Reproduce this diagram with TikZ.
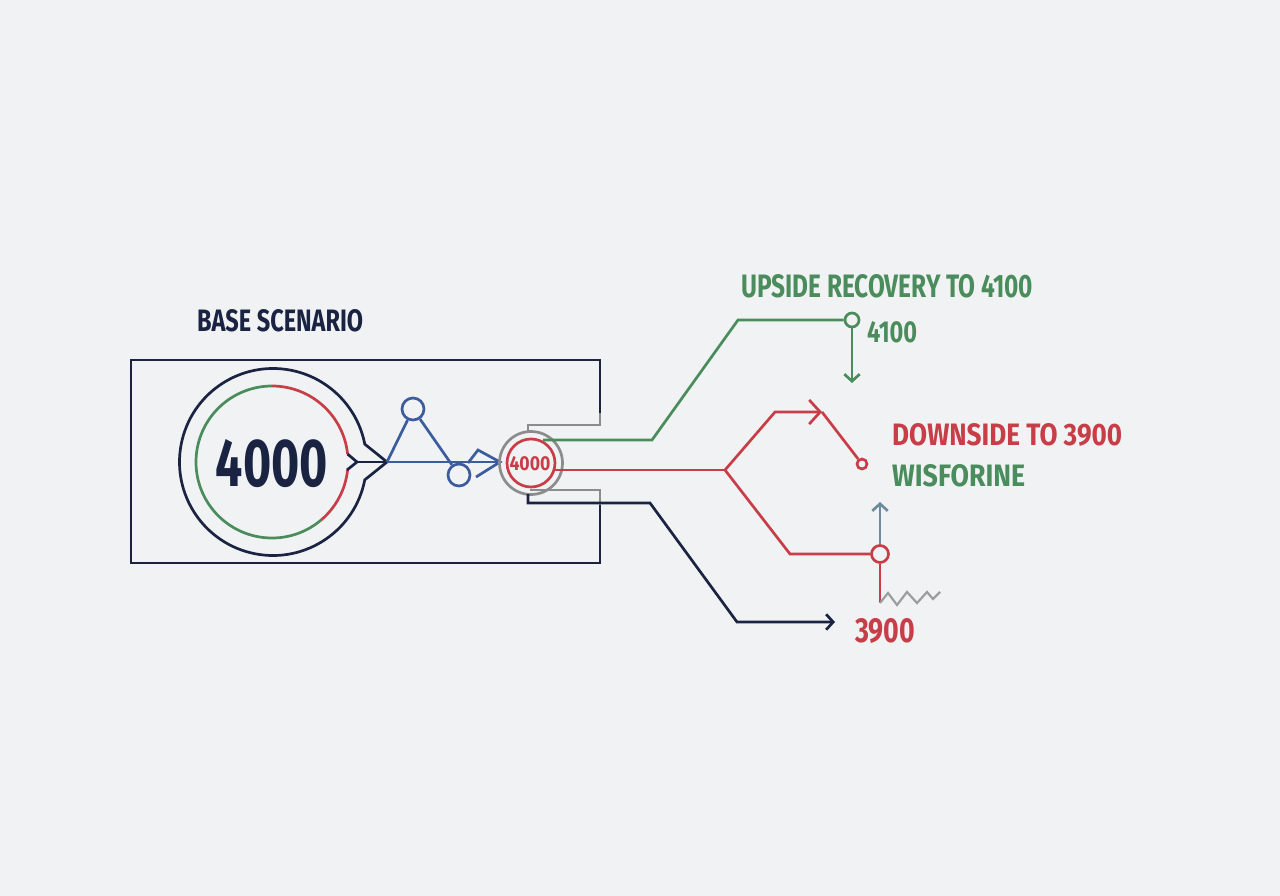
\documentclass[tikz,border=0pt]{standalone}
\usepackage{fontspec}
\setmainfont{Fira Sans}
\usepackage{graphicx}
\usetikzlibrary{arrows.meta}
\definecolor{bg}{RGB}{240,242,243}
\definecolor{navy}{RGB}{26,36,66}
\definecolor{sgreen}{RGB}{74,140,92}
\definecolor{sred}{RGB}{200,62,72}
\definecolor{sblue}{RGB}{60,92,156}
\definecolor{sgray}{RGB}{140,140,140}
\definecolor{steal}{RGB}{110,140,158}
\newcommand{\lbl}[3]{\resizebox{#1pt}{#2pt}{\bfseries #3}}
\tikzset{
  ln/.style={line width=2.7pt, line join=miter},
  lbox/.style={inner sep=0pt, anchor=south west},
  barb/.style={-{Straight Barb[length=#1pt, width=2.2*#1pt, line width=2.7pt]}},
  ring/.style={draw=#1, line width=2.7pt, circle, inner sep=0pt},
}
\begin{document}
\begin{tikzpicture}[x=1pt,y=-1pt]
\fill[bg] (0,0) rectangle (1280,896);
\useasboundingbox (0,0) rectangle (1280,896);

% labels
\node[lbox, text=navy] (tbase) at (197,332) {\lbl{166}{22}{BASE SCENARIO}};
\node[lbox, text=sgreen] (tup) at (741,298) {\lbl{292}{23}{UPSIDE RECOVERY TO 4100}};
\node[lbox, text=sgreen] (t4100) at (867,343) {\lbl{50}{21}{4100}};
\node[lbox, text=sred] (tdown) at (892,447) {\lbl{230}{22}{DOWNSIDE TO 3900}};
\node[lbox, text=sgreen] (twis) at (892,487) {\lbl{133}{22}{WISFORINE}};
\node[lbox, text=sred] (t3900) at (855,644) {\lbl{60}{24}{3900}};

% base rectangle
\draw[ln, navy] (600,413) -- (600,360) -- (131,360) -- (131,563) -- (600,563) -- (600,505);
\draw[ln, sgray] (600,505) -- (600,490) -- (530,490);
\draw[ln, sgray] (528,433) -- (528,425) -- (600,425) -- (600,413);

% big circle with pointer
\draw[ln, navy] (273,462) ++(11:93.5) arc[start angle=11, end angle=349, radius=93.5] -- (387,462) -- cycle;
\coordinate (tip) at (387,462);
\draw[ln, sred] (272,462) ++(-90:76) arc[start angle=-90, end angle=-6, radius=76];
\draw[ln, sred] (272,462) ++(6:76) arc[start angle=6, end angle=50, radius=76];
\draw[ln, sgreen] (272,462) ++(50:76) arc[start angle=50, end angle=270, radius=76];
\draw[ln, navy] (272,462) ++(-6:76) -- (357,462) -- ++(-10,8);
\draw[ln, navy] (357,462) -- (tip);
\node[lbox, text=navy, anchor=center] (big) at (272,463.5) {\lbl{112}{47}{4000}};

% triangle network
\node[ring=sblue, minimum size=22pt] (apex) at (413,409) {};
\node[ring=sblue, minimum size=22pt] (low) at (459,475) {};
\coordinate (atip) at (500,462);
\draw[ln, sblue] (tip) -- (apex);
\draw[ln, sblue] (apex) -- (low);
\draw[ln, sblue] (tip) -- (atip);
\draw[ln, sblue] (468,463) -- (478,450) -- (atip) -- (476,477);

% small hub
\node[ring=sgray, minimum size=63pt] (hub) at (531,463) {};
\node[ring=sred, minimum size=48pt] (hubin) at (531,463) {};
\node[lbox, anchor=center, text=sred] (hubt) at (530,464) {\lbl{41}{14}{4000}};

% green branch
\node[ring=sgreen, fill=bg, minimum size=14pt] (gc) at (852,320) {};
\coordinate (g0) at (543,440);
\coordinate (g1) at (652,440);
\coordinate (g2) at (738,320);
\coordinate (gend) at (852,383);
\draw[ln, sgreen] (g0) -- (g1) -- (g2) -- (gc.west);
\draw[ln, sgreen, barb=7] (gc.south) -- (gend);

% red branches
\coordinate (r0) at (555,470);
\coordinate (rs) at (725,470);
\coordinate (ru) at (775,412);
\coordinate (rtip) at (822,412);
\node[ring=sred, fill=bg, minimum size=10pt] (rc1) at (862,464) {};
\coordinate (rd) at (790,554);
\node[ring=sred, fill=bg, minimum size=17pt] (rc2) at (880,554) {};
\coordinate (rb) at (880,603);
\draw[ln, sred] (r0) -- (rs);
\draw[ln, sred, barb=11] (rs) -- (ru) -- (rtip);
\draw[ln, sred] (rtip) -- (rc1);
\draw[ln, sred] (rs) -- (rd) -- (rc2.west);
\draw[ln, sred] (rc2.south) -- (rb);
\draw[line width=2.2pt, sgray!85, line join=miter] (rb) -- (888,593) -- (897,605) -- (907,592) -- (917,603) -- (927,592) -- (933,599) -- (940,592);
\coordinate (tu) at (880,502);
\draw[ln, steal, barb=7] (rc2.north) -- (tu);

% navy branch
\coordinate (n0) at (528,494);
\coordinate (n1) at (528,503);
\coordinate (n2) at (650,503);
\coordinate (n3) at (737,622);
\coordinate (n4) at (835,622);
\draw[ln, navy, barb=7] (n0) -- (n1) -- (n2) -- (n3) -- (n4);
\end{tikzpicture}
\end{document}
